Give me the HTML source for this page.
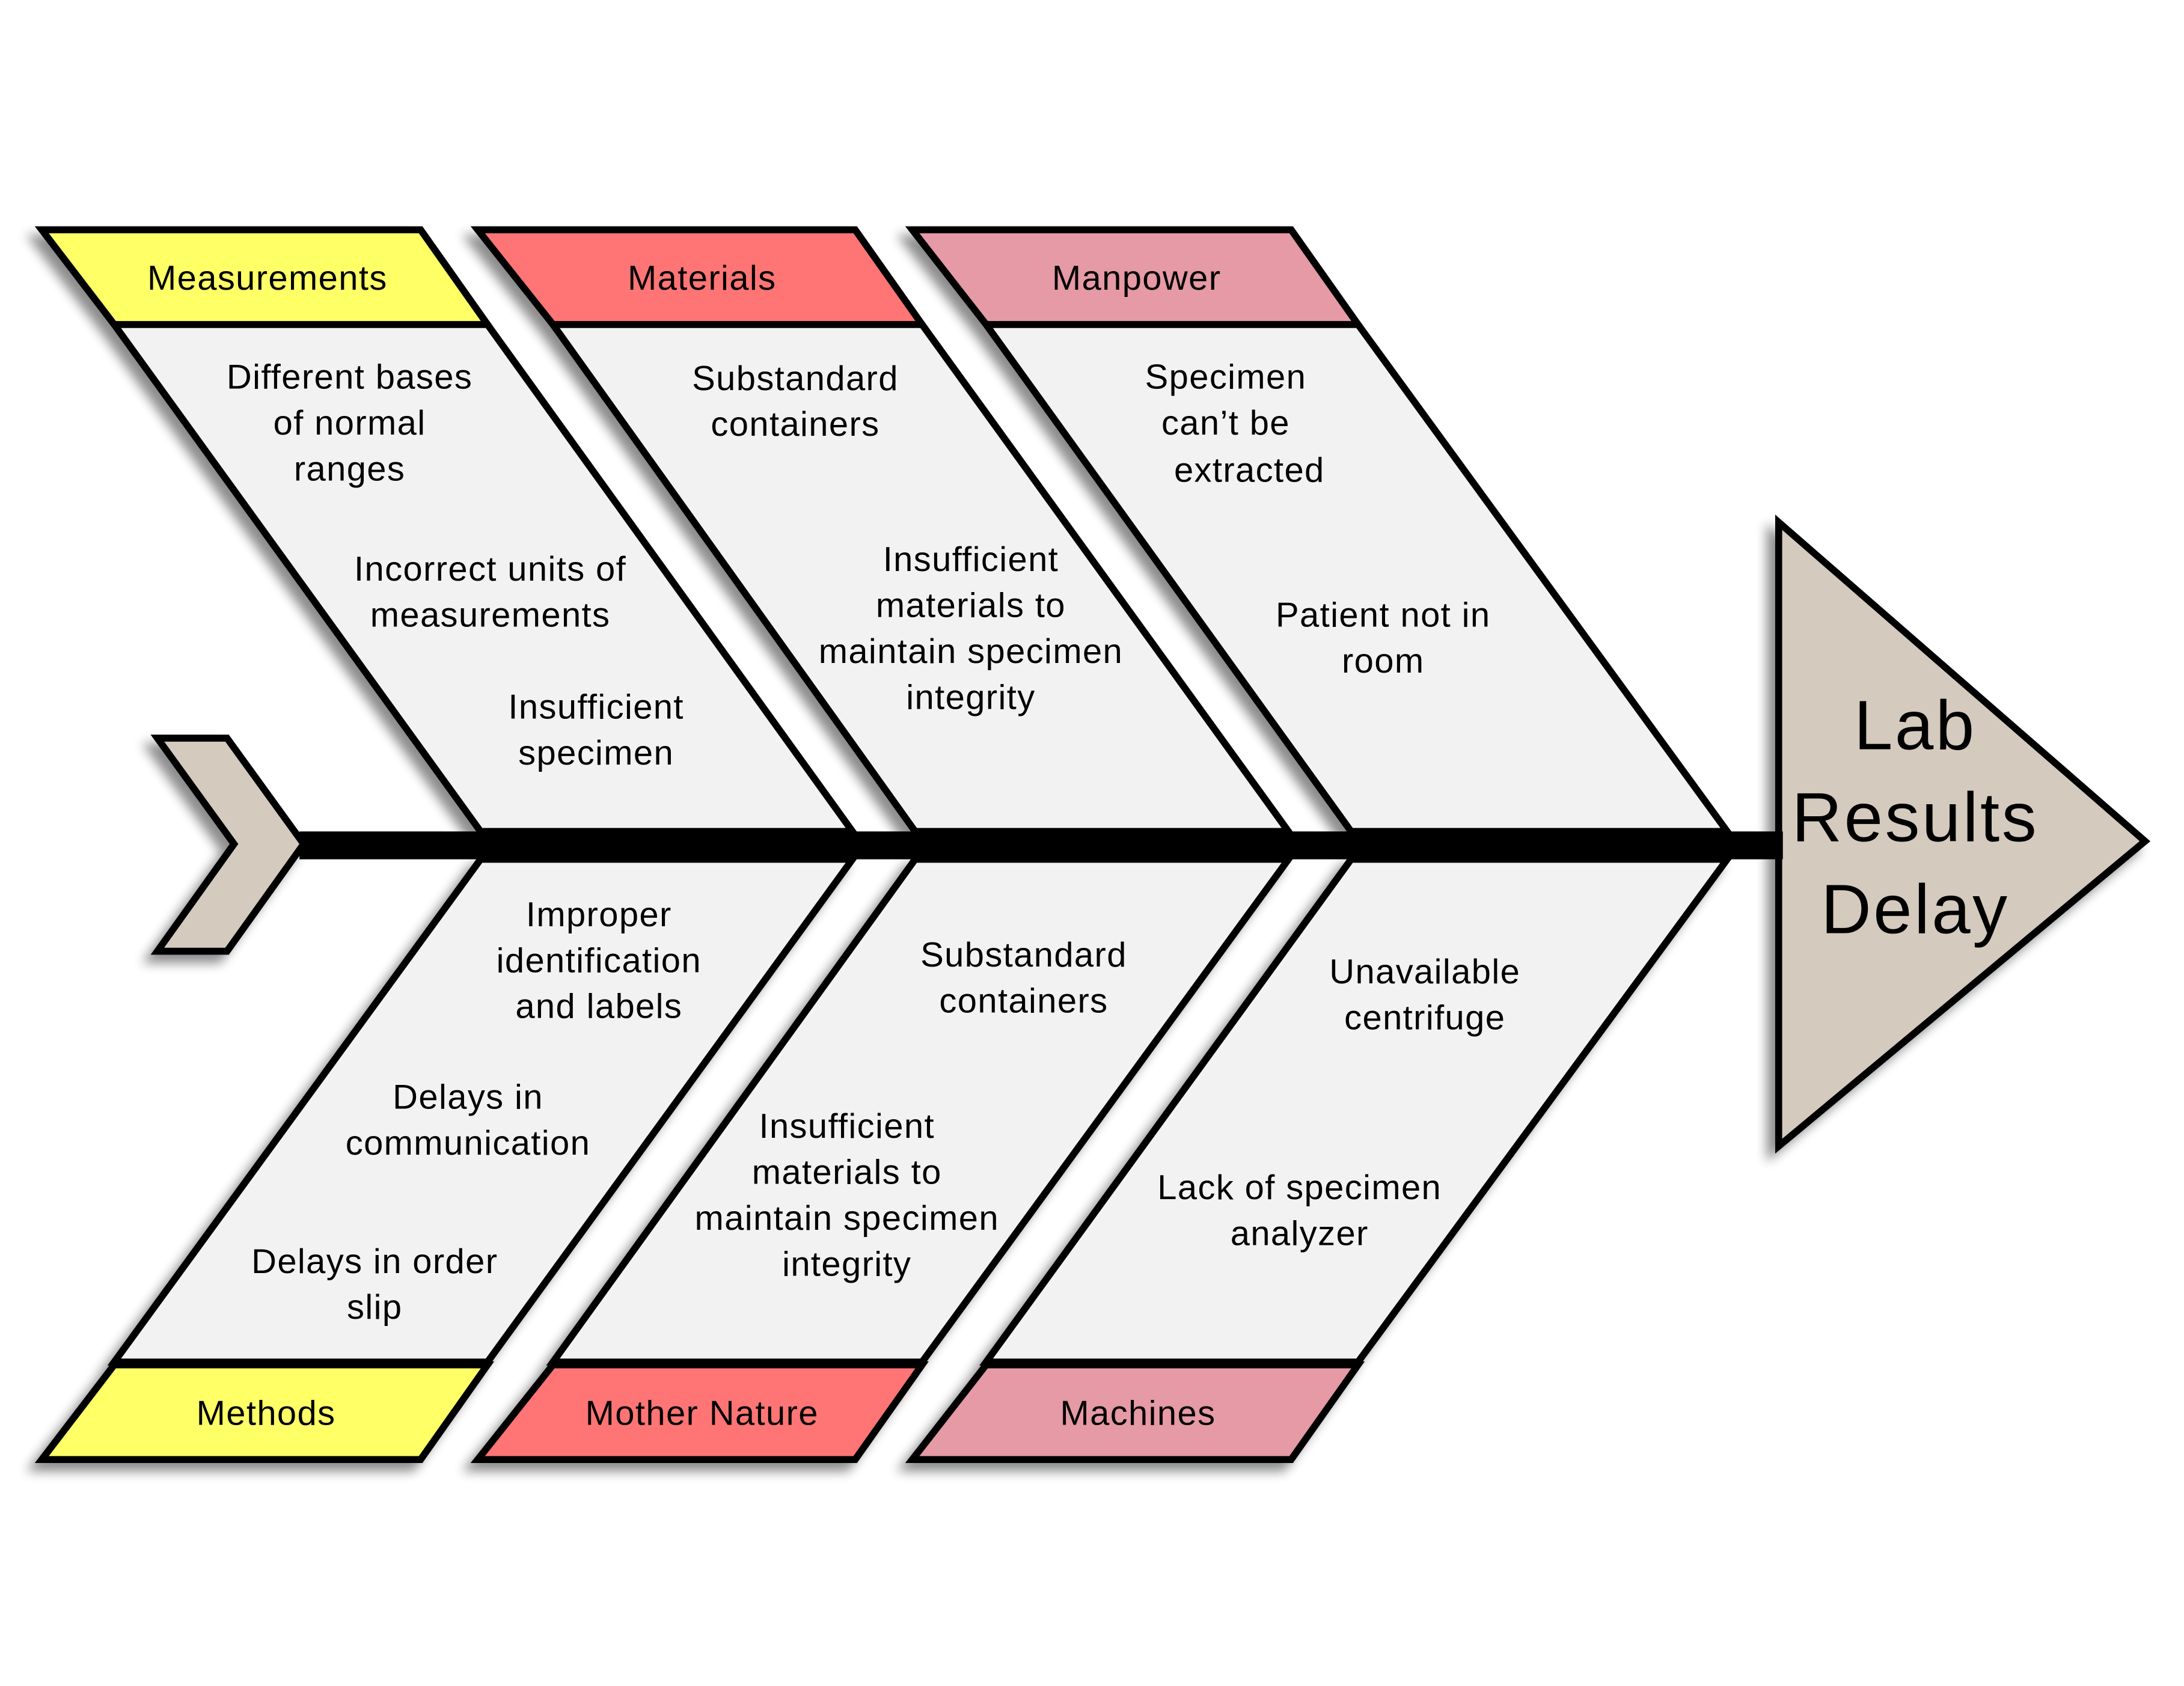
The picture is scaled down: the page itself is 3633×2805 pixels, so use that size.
<!DOCTYPE html>
<html><head><meta charset="utf-8"><style>
html,body{margin:0;padding:0;background:#fff;}
svg{display:block;}
text{font-family:"Liberation Sans",sans-serif;fill:#000;}
</style></head><body>
<svg width="3633" height="2805" viewBox="0 0 1568 1210.6" preserveAspectRatio="none" xmlns="http://www.w3.org/2000/svg">
<defs>
<filter id="sh" x="-10%" y="-10%" width="130%" height="130%">
<feGaussianBlur in="SourceAlpha" stdDeviation="4"/>
<feOffset dx="-6" dy="6" result="b"/>
<feComponentTransfer><feFuncA type="linear" slope="0.45"/></feComponentTransfer>
<feMerge><feMergeNode/><feMergeNode in="SourceGraphic"/></feMerge>
</filter>
</defs>
<g filter="url(#sh)" stroke="#000" stroke-width="5" stroke-linejoin="miter">
<polygon points="82,233 350,233 612,597 345,597" fill="#f2f2f2"/>
<polygon points="397,233 662,233 925,597 657,597" fill="#f2f2f2"/>
<polygon points="708,233 975,233 1240,597 970,597" fill="#f2f2f2"/>
<polygon points="30,165 302,165 350,233 82,233" fill="#ffff66"/>
<polygon points="343,165 614,165 662,233 397,233" fill="#ff7575"/>
<polygon points="655,165 927,165 975,233 708,233" fill="#e59aa5"/>
<polygon points="345,617 612,617 350,978 82,978" fill="#f2f2f2"/>
<polygon points="657,617 925,617 662,978 397,978" fill="#f2f2f2"/>
<polygon points="970,617 1240,617 975,978 708,978" fill="#f2f2f2"/>
<polygon points="82,980 350,980 302,1048 30,1048" fill="#ffff66"/>
<polygon points="397,980 662,980 614,1048 343,1048" fill="#ff7575"/>
<polygon points="708,980 975,980 927,1048 655,1048" fill="#e59aa5"/>
<polygon points="113,530 163,530 218,606 163,683 113,683 168,606" fill="#d4cabd"/>
<polygon points="1277,375 1277,823 1540,604" fill="#d4cabd"/>
</g>
<rect x="215" y="597" width="1065" height="20" fill="#000"/>
<g font-size="25" text-anchor="middle" letter-spacing="0.6">
<text x="192" y="208">Measurements</text>
<text x="504" y="208">Materials</text>
<text x="816" y="208">Manpower</text>
<text x="191" y="1023">Methods</text>
<text x="504" y="1023">Mother Nature</text>
<text x="817" y="1023">Machines</text>

<text x="251" y="279">Different bases</text>
<text x="251" y="312">of normal</text>
<text x="251" y="345">ranges</text>
<text x="352" y="417">Incorrect units of</text>
<text x="352" y="450">measurements</text>
<text x="428" y="516">Insufficient</text>
<text x="428" y="549">specimen</text>

<text x="571" y="280">Substandard</text>
<text x="571" y="313">containers</text>
<text x="697" y="410">Insufficient</text>
<text x="697" y="443">materials to</text>
<text x="697" y="476">maintain specimen</text>
<text x="697" y="509">integrity</text>

<text x="880" y="279">Specimen</text>
<text x="880" y="312">can’t be</text>
<text x="897" y="346">extracted</text>
<text x="993" y="450">Patient not in</text>
<text x="993" y="483">room</text>

<text x="430" y="665">Improper</text>
<text x="430" y="698">identification</text>
<text x="430" y="731">and labels</text>
<text x="336" y="796">Delays in</text>
<text x="336" y="829">communication</text>
<text x="269" y="914">Delays in order</text>
<text x="269" y="947">slip</text>

<text x="735" y="694">Substandard</text>
<text x="735" y="727">containers</text>
<text x="608" y="817">Insufficient</text>
<text x="608" y="850">materials to</text>
<text x="608" y="883">maintain specimen</text>
<text x="608" y="916">integrity</text>

<text x="1023" y="706">Unavailable</text>
<text x="1023" y="739">centrifuge</text>
<text x="933" y="861">Lack of specimen</text>
<text x="933" y="894">analyzer</text>
</g>
<g font-size="50" text-anchor="middle" letter-spacing="1.5">
<text x="1375" y="538">Lab</text>
<text x="1375" y="604">Results</text>
<text x="1375" y="670">Delay</text>
</g>
</svg>
</body></html>
